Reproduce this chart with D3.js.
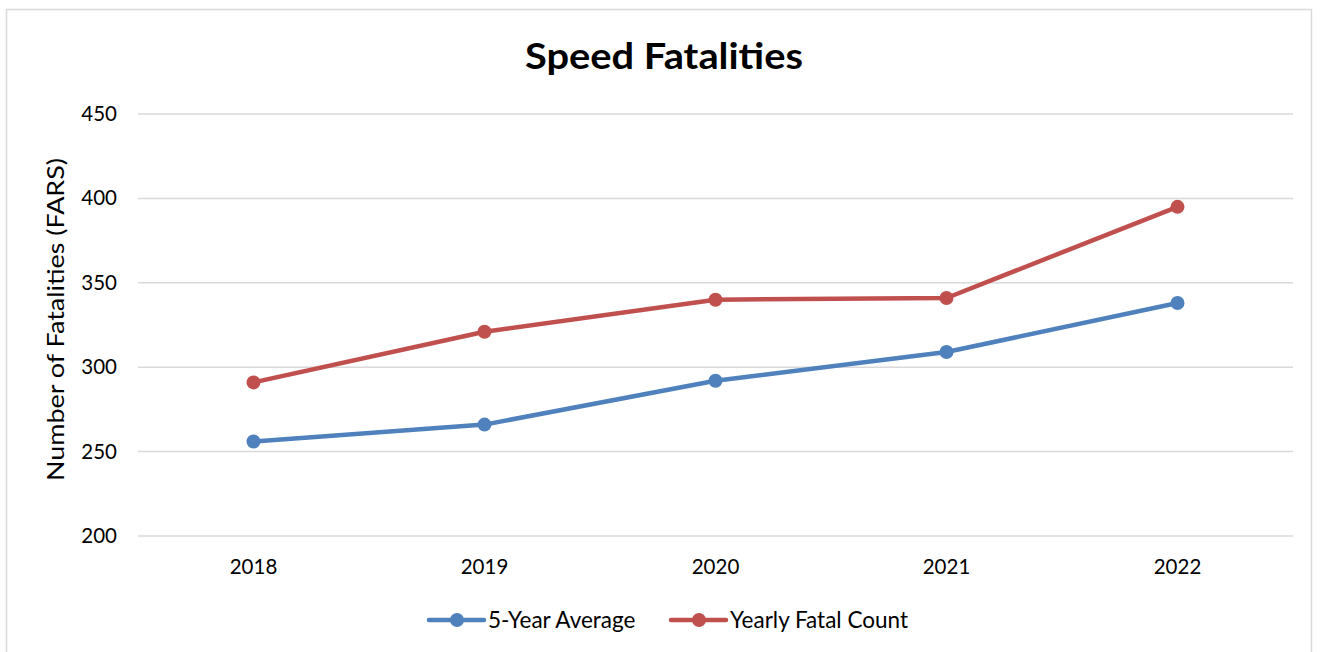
<!DOCTYPE html>
<html>
<head>
<meta charset="utf-8">
<script src="https://cdn.jsdelivr.net/npm/d3@7"></script>
<style>
  body { margin: 0; background: #fff; }
  svg { font-family: Lato, "Open Sans", sans-serif; }
</style>
</head>
<body>
<script>
// data
const years = ["2018", "2019", "2020", "2021", "2022"]
const fiveYearAvg = [256, 266, 292, 309, 338]
const yearlyCount = [291, 321, 340, 341, 395]
const yTicks = [200, 250, 300, 350, 400, 450]

const seriesList = [
  {name: "5-Year Average", values: fiveYearAvg, color: "#4f81bd"},
  {name: "Yearly Fatal Count", values: yearlyCount, color: "#c0504d"}
]

const width = 1322, height = 652
const margin = {top: 114, bottom: 116, left: 138, right: 29}

const svg = d3.select("body").append("svg")
  .attr("width", width)
  .attr("height", height)

// chart border
svg.append("rect")
  .attr("x", 6.5).attr("y", 9.5)
  .attr("width", 1305).attr("height", 660)
  .attr("fill", "none")
  .attr("stroke", "#d9d9d9")
  .attr("stroke-width", 1.5)

const xScale = d3.scaleBand()
  .domain(years)
  .range([margin.left, width - margin.right])

const yScale = d3.scaleLinear()
  .domain([200, 450])
  .range([height - margin.bottom, margin.top])

// gridlines
svg.append("g")
  .selectAll("line")
  .data(yTicks)
  .enter().append("line")
  .attr("x1", margin.left)
  .attr("x2", width - margin.right)
  .attr("y1", d => yScale(d))
  .attr("y2", d => yScale(d))
  .attr("stroke", "#d9d9d9")
  .attr("stroke-width", 1.5)

// y axis labels
const yAxis = svg.append("g")
  .attr("transform", "translate(" + (margin.left - 21) + ",0)")
  .call(d3.axisLeft(yScale).tickValues(yTicks).tickSize(0).tickPadding(0))
yAxis.select(".domain").remove()
yAxis.selectAll("text")
  .attr("font-size", 20.5)
  .attr("font-family", "Lato, sans-serif")
  .attr("fill", "#000")

// x axis labels
const xAxis = svg.append("g")
  .attr("transform", "translate(0," + (height - margin.bottom + 19) + ")")
  .call(d3.axisBottom(xScale).tickSize(0).tickPadding(4))
xAxis.select(".domain").remove()
xAxis.selectAll("text")
  .attr("font-size", 20.5)
  .attr("font-family", "Lato, sans-serif")
  .attr("fill", "#000")

// title
svg.append("text")
  .attr("x", 664)
  .attr("y", 69)
  .attr("text-anchor", "middle")
  .attr("font-size", 37)
  .attr("font-weight", "bold")
  .attr("textLength", 278)
  .attr("lengthAdjust", "spacingAndGlyphs")
  .text("Speed Fatalities")

// y label
svg.append("text")
  .attr("transform", "translate(64,319.5) rotate(-90)")
  .attr("text-anchor", "middle")
  .attr("font-size", 23)
  .attr("textLength", 323)
  .attr("lengthAdjust", "spacingAndGlyphs")
  .text("Number of Fatalities (FARS)")

const line = d3.line()
  .x((d, i) => xScale(years[i]) + xScale.bandwidth() / 2)
  .y(d => yScale(d))

seriesList.forEach(function(s) {
  svg.append("path")
    .attr("d", line(s.values))
    .attr("fill", "none")
    .attr("stroke", s.color)
    .attr("stroke-width", 4.5)
    .attr("stroke-linecap", "round")
    .attr("stroke-linejoin", "round")

  svg.selectAll(null)
    .data(s.values)
    .enter().append("circle")
    .attr("cx", (d, i) => xScale(years[i]) + xScale.bandwidth() / 2)
    .attr("cy", d => yScale(d))
    .attr("r", 7)
    .attr("fill", s.color)
})

// legend
const legendX = [429, 671]
seriesList.forEach(function(s, i) {
  const g = svg.append("g").attr("transform", "translate(" + legendX[i] + ",620)")
  g.append("line")
    .attr("x1", 0).attr("x2", 55)
    .attr("stroke", s.color)
    .attr("stroke-width", 4.5)
    .attr("stroke-linecap", "round")
  g.append("circle").attr("cx", 28).attr("r", 7).attr("fill", s.color)
  g.append("text")
    .attr("x", 59)
    .attr("y", 7.5)
    .attr("font-size", 22.5)
    .text(s.name)
})
</script>
</body>
</html>
